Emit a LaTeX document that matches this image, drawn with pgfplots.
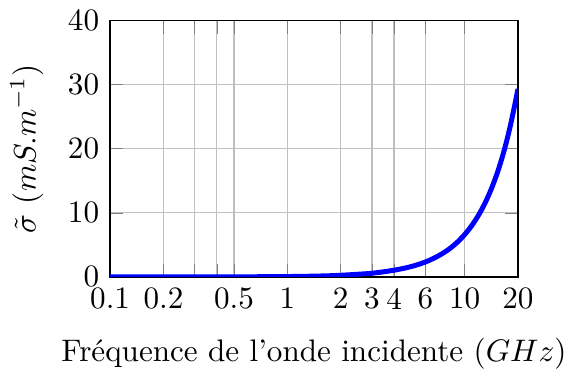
\documentclass[border=0pt]{standalone}
\usepackage{pgfplots}
\pgfplotsset{compat=1.18}

\begin{document}
\begin{tikzpicture}
\begin{axis}[
    scale only axis,
    width=131pt, height=82.4pt,
    xmode=log,
    xmin=0.1, xmax=20,
    ymin=0, ymax=40,
    xtick={0.1,0.2,0.3,0.4,0.5,1,2,3,4,6,10,20},
    xticklabels={0.1,0.2,,,0.5,1,2,3,4,6,10,20},
    ytick={0,10,20,30,40},
    grid=major,
    xlabel={Fréquence de l'onde incidente ($GHz$)},
    xlabel style={yshift=-2.5pt},
    ylabel={$\tilde{\sigma}$ $(mS.m^{-1})$},
    ylabel style={yshift=1pt},
]
\addplot[blue, ultra thick, smooth] coordinates {
    (0.1,0.0006) (0.2,0.0025) (0.5,0.016) (1,0.064) (1.5,0.14) (2,0.26)
    (3,0.58) (4,1.05) (5,1.62) (6,2.33) (7,3.18) (8,4.16) (9,5.30) (10,6.6)
    (11,8.05) (12,9.66) (13,11.45) (14,13.42) (15,15.57) (16,17.92)
    (17,20.47) (18,23.25) (19,26.25) (20,29.3)
};
\end{axis}
\end{tikzpicture}
\end{document}
